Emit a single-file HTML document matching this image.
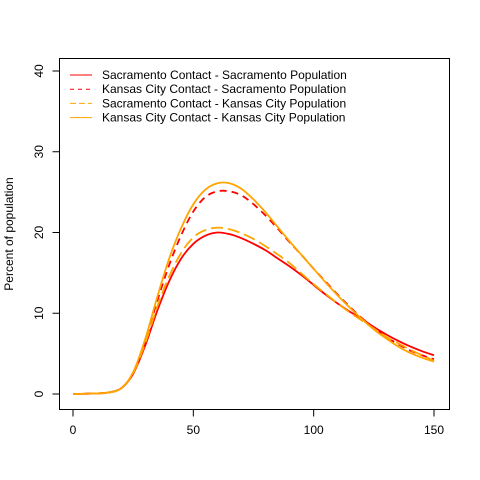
<!DOCTYPE html>
<html><head><meta charset="utf-8"><style>
html,body{margin:0;padding:0;background:#fff;}
svg{display:block;font-family:"Liberation Sans",Arial,sans-serif;}
</style></head><body>
<svg id="chart" width="480" height="480" viewBox="0 0 480 480">
<rect x="0" y="0" width="480" height="480" fill="#fff"/>
<g id="axes"></g>
<g id="series"></g>
<rect x="59.5" y="58.5" width="390" height="351" fill="none" stroke="#000" stroke-width="1"/>
<text transform="translate(13,234) rotate(-90)" text-anchor="middle" font-size="12">Percent of population</text>
<g id="legend"></g>
</svg>
<script>
const days = [0,5,10,15,20,25,30,35,40,45,50,55,60,65,70,75,80,85,90,95,100,105,110,115,120,125,130,135,140,145,150];
const sacSac = [0,0.03,0.08,0.2,0.7,2.5,6.0,10.3,14.0,16.8,18.6,19.6,20.0,19.8,19.3,18.6,17.8,16.8,15.8,14.7,13.5,12.3,11.2,10.2,9.3,8.3,7.4,6.6,5.9,5.3,4.8];
const kcSac = [0,0.03,0.08,0.2,0.7,2.6,6.6,11.5,16.0,19.7,22.6,24.4,25.1,25.1,24.6,23.5,22.1,20.5,18.8,17.2,15.5,13.9,12.3,10.8,9.4,8.2,7.1,6.2,5.4,4.8,4.3];
const sacKc = [0,0.03,0.08,0.2,0.7,2.6,6.3,10.8,14.6,17.5,19.4,20.3,20.6,20.4,19.9,19.2,18.3,17.3,16.2,14.9,13.6,12.4,11.2,10.1,9.1,8.1,7.1,6.3,5.5,4.8,4.1];
const kcKc = [0,0.03,0.08,0.2,0.7,2.7,6.8,12.0,16.8,20.6,23.5,25.3,26.1,26.1,25.4,24.1,22.5,20.7,18.9,17.2,15.5,13.8,12.2,10.7,9.3,8.0,6.9,5.9,5.1,4.5,4.0];
const xTicks = [0,50,100,150];
const yTicks = [0,10,20,30,40];
const seriesNames = ["Sacramento Contact - Sacramento Population","Kansas City Contact - Sacramento Population","Sacramento Contact - Kansas City Population","Kansas City Contact - Kansas City Population"];

const NS="http://www.w3.org/2000/svg";
function xs(v){return 73 + v*(434-73)/150;}
function ys(v){return 394 - v*(394-71)/40;}
function mk(tag,attrs,parent){const e=document.createElementNS(NS,tag);for(const k in attrs)e.setAttribute(k,attrs[k]);parent.appendChild(e);return e;}
const axes=document.getElementById('axes');
mk('line',{x1:xs(0),x2:xs(150),y1:409.5,y2:409.5,stroke:'#000'},axes);
xTicks.forEach(t=>{
  const l=mk('line',{x1:xs(t),x2:xs(t),y1:409.5,y2:416.5,stroke:'#000'},axes);
  
  
  const tx=mk('text',{x:xs(t),y:434,'text-anchor':'middle','font-size':12},axes);
  tx.textContent=t;
  
  
});
mk('line',{x1:59.5,x2:59.5,y1:ys(0),y2:ys(40),stroke:'#000'},axes);
yTicks.forEach(t=>{
  const l=mk('line',{x1:52.5,x2:59.5,y1:ys(t),y2:ys(t),stroke:'#000'},axes);
  
  
  const tx=mk('text',{transform:`translate(43,${ys(t)}) rotate(-90)`,'text-anchor':'middle','font-size':12},axes);
  tx.textContent=t;
  
  
});
function pathFor(vals){
  const p=days.map((d,i)=>[xs(d),ys(vals[i])]);
  let s=`M${p[0][0]},${p[0][1]}`;
  for(let i=0;i<p.length-1;i++){
    const p0=p[Math.max(0,i-1)],p1=p[i],p2=p[i+1],p3=p[Math.min(p.length-1,i+2)];
    const c1=[p1[0]+(p2[0]-p0[0])/6,p1[1]+(p2[1]-p0[1])/6];
    const c2=[p2[0]-(p3[0]-p1[0])/6,p2[1]-(p3[1]-p1[1])/6];
    s+=` C${c1[0]},${c1[1]} ${c2[0]},${c2[1]} ${p2[0]},${p2[1]}`;
  }
  return s;
}
const sg=document.getElementById('series');
const styles=[
  {vals:sacSac,col:'#ff0000',dash:'none',name:'line-sac-contact-sac-pop'},
  {vals:kcSac,col:'#ff0000',dash:'7,5',name:'line-kc-contact-sac-pop'},
  {vals:sacKc,col:'#ffa500',dash:'12,5',name:'line-sac-contact-kc-pop'},
  {vals:kcKc,col:'#ffa500',dash:'none',name:'line-kc-contact-kc-pop'}
];
styles.forEach(s=>{
  const p=mk('path',{d:pathFor(s.vals),fill:'none',stroke:s.col,'stroke-width':1.8,'stroke-dasharray':s.dash},sg);
  
  
});
const lg=document.getElementById('legend');
const legDash=['none','4,4','6,3','none'];
const legCol=['#ff0000','#ff0000','#ffa500','#ffa500'];
seriesNames.forEach((n,i)=>{
  const y=75+i*14.2;
  const l=mk('line',{x1:70,x2:92,y1:y,y2:y,stroke:legCol[i],'stroke-width':1,'stroke-dasharray':legDash[i]},lg);
  
  
  const t=mk('text',{x:102,y:y+4,'font-size':12},lg);
  t.textContent=n;
  
  
});
</script>
</body></html>
